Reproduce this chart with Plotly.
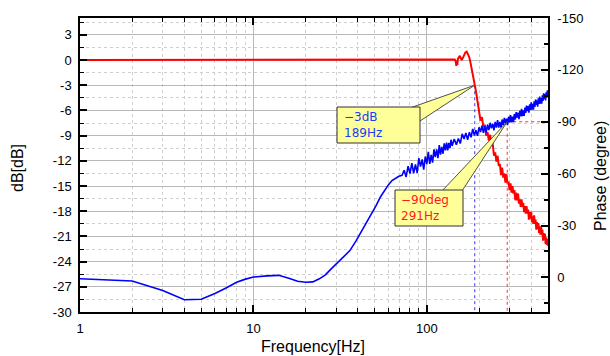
import math
import plotly.graph_objects as go

# ---------------- data ----------------
mag_freq = [1, 10, 100, 140, 145, 147, 148, 149, 150, 151, 153, 155, 157, 159, 161, 164, 167, 170,
            173, 176, 179, 182, 185, 189, 192, 195, 198,
            200, 204, 208, 212, 216, 220, 224, 228, 232, 236, 240, 244, 248, 252, 256, 260, 264, 268,
            272, 276, 280, 284, 288, 292, 296, 300, 304, 308, 312, 316, 320, 324, 328, 332, 336, 340,
            344, 348, 352, 356, 360, 364, 368, 372, 376, 380, 384, 388, 392, 396, 400, 404, 408, 412,
            416, 420, 424, 428, 432, 436, 440, 444, 448, 452, 456, 460, 464, 468, 472, 476, 480, 484,
            488, 492, 496, 500]
mag_db = [0.0, 0.0, 0.0, 0.0, 0.05, -0.2, -0.7, -0.1, -0.6, 0.1, 0.4, 0.5, 0.2, 0.0, 0.2, 0.6, 0.9, 1.0,
          0.7, 0.3, -0.4, -1.1, -1.9, -3.0, -3.7, -4.6, -5.4,
          -6.0, -7.2, -6.8, -8.0, -7.7, -9.0, -8.6, -9.6, -8.9, -10.1, -10.0, -11.4, -11.0, -12.1, -11.4,
          -12.6, -12.4, -13.7, -12.8, -14.0, -13.5, -14.6, -13.6, -14.7, -14.5, -15.5, -14.7, -15.8,
          -15.0, -15.9, -15.5, -16.7, -15.8, -16.7, -15.9, -17.1, -16.6, -17.5, -16.6, -17.5, -17.0,
          -18.1, -17.4, -18.3, -17.4, -18.3, -17.8, -19.0, -18.1, -18.9, -18.1, -19.3, -18.6, -19.5,
          -18.5, -19.5, -19.0, -20.2, -19.3, -20.1, -19.4, -20.6, -19.8, -20.8, -19.8, -20.8, -20.2,
          -21.5, -20.6, -21.4, -20.7, -21.9, -21.1, -22.0, -21.3, -22.1]

phase_freq = [1, 2, 3, 4, 5, 6, 7, 8, 9, 10, 12, 14, 16, 18, 20, 22, 24, 26, 28, 30, 33, 36, 39, 42,
              45, 48, 51, 54, 57, 60, 63, 66, 69, 72,
              74, 76, 78, 80, 82, 84, 86, 88, 90, 92, 94, 96, 98, 100, 102, 104, 106, 108, 110, 112,
              114, 116, 118, 120, 122, 124, 126, 128, 130, 132, 134, 136, 138, 140,
              144, 148, 152, 156, 160, 164, 168, 172, 176, 180, 184, 188, 192, 196, 200, 204, 208, 212,
              216, 220, 224, 228, 232, 236, 240, 244, 248, 252, 256, 260, 264, 268, 272, 276, 280, 284,
              288, 292, 296, 300, 304, 308, 312, 316, 320, 324, 328, 332, 336, 340, 344, 348, 352, 356,
              360, 364, 368, 372, 376, 380, 384, 388, 392, 396, 400, 404, 408, 412, 416, 420, 424, 428,
              432, 436, 440, 444, 448, 452, 456, 460, 464, 468, 472, 476, 480, 484, 488, 492, 496, 500]
phase_deg = [0.8, 2.1, 7.6, 12.9, 12.6, 9.3, 6.0, 2.8, 1.0, -0.2, -0.9, -1.2, 0.5, 2.2, 2.8, 2.6, 0.8,
             -1.5, -4.8, -7.8, -11.5, -15.5, -21.0, -26.5, -31.5, -36.5, -41.5, -46.5, -50.5, -53.5,
             -56.0, -57.5, -58.5, -59.0,
             -62.0, -58.1, -64.3, -60.0, -66.1, -60.2, -65.3, -60.4, -69.0, -64.1, -68.2, -62.3, -69.9,
             -65.5, -72.6, -65.7, -70.8, -66.4, -74.0, -69.5, -74.0, -69.0, -76.5, -71.0, -75.5, -71.5,
             -77.5, -73.5, -78.0, -73.4, -77.8, -74.7, -79.6, -76.0,
             -80.1, -76.7, -80.3, -77.4, -83.0, -80.0, -83.5, -79.5, -84.0, -81.0, -85.9, -82.2, -85.1,
             -81.9, -86.8, -84.1, -87.8, -83.6, -87.4, -83.7, -88.4, -85.2, -89.4, -86.2, -88.9, -85.1,
             -89.9, -86.6, -90.9, -86.6, -89.9, -86.6, -91.3, -88.1, -92.3, -89.1, -91.8, -88.1, -92.9,
             -89.6, -93.9, -89.7, -93.0, -89.8, -94.5, -91.3, -95.6, -92.4, -95.2, -91.5, -96.3, -93.1,
             -97.5, -93.3, -96.6, -93.4, -98.2, -95.1, -99.4, -96.2, -99.0, -95.3, -100.1, -96.9, -101.2,
             -97.0, -100.3, -97.0, -101.8, -98.6, -102.9, -99.7, -102.4, -98.7, -103.5, -100.3, -104.6,
             -100.4, -103.7, -100.5, -105.3, -102.1, -106.4, -103.2, -106.0, -102.3, -107.1, -103.9,
             -108.2, -105.0]

cutoff_freq = 189
cutoff_db = -3
phase90_freq = 291
phase90_deg = -90

x_tickvals = [1, 10, 100]
x_ticktext = ["1", "10", "100"]
x_minorvals = [2, 3, 4, 5, 6, 7, 8, 9, 20, 30, 40, 50, 60, 70, 80, 90, 200, 300, 400]
db_tickvals = [-30, -27, -24, -21, -18, -15, -12, -9, -6, -3, 0, 3]
db_ticktext = ["-30", "-27", "-24", "-21", "-18", "-15", "-12", "-9", "-6", "-3", "0", "3"]
db_minorvals = [-28.5, -25.5, -22.5, -19.5, -16.5, -13.5, -10.5, -7.5, -4.5, -1.5, 1.5, 4.5]
ph_tickvals = [-150, -120, -90, -60, -30, 0]
ph_ticktext = ["-150", "-120", "-90", "-60", "-30", "0"]
ph_minorvals = [-135, -105, -75, -45, -15, 15]

label_cutoff = "\u22123dB<br>189Hz"
label_phase = "\u221290deg<br>291Hz"

# ---------------- layout geometry ----------------
W, H = 610, 356
L, R, T, B = 80, 548, 18, 312
X_MAX = 500
DB_RANGE = [-30, 5]
PH_RANGE = [20, -150]

def pxx(px):
    return (px - L) / (R - L)

def pxy(py):
    return (B - py) / (B - T)

def f_to_paper(f):
    return math.log10(f) / math.log10(X_MAX)

def db_to_paper(d):
    return (d - DB_RANGE[0]) / (DB_RANGE[1] - DB_RANGE[0])

def ph_to_paper(p):
    return (p - PH_RANGE[0]) / (PH_RANGE[1] - PH_RANGE[0])

FONT = "Liberation Sans, Arial, sans-serif"
BOXFONT = "DejaVu Sans, sans-serif"
YELLOW = "#ffff99"

fig = go.Figure()

# reference lines
fig.add_trace(go.Scatter(x=[cutoff_freq, cutoff_freq], y=[cutoff_db, DB_RANGE[0]], mode="lines",
                         line=dict(color="#3a3aff", width=1, dash="dot"), yaxis="y", hoverinfo="skip"))
fig.add_trace(go.Scatter(x=[phase90_freq, phase90_freq], y=[phase90_deg, PH_RANGE[0]], mode="lines",
                         line=dict(color="#ff3030", width=1, dash="dot"), yaxis="y2", hoverinfo="skip"))
fig.add_trace(go.Scatter(x=[phase90_freq, X_MAX], y=[phase90_deg, phase90_deg], mode="lines",
                         line=dict(color="#ff3030", width=1, dash="dot"), yaxis="y2", hoverinfo="skip"))

# phase
fig.add_trace(go.Scatter(x=phase_freq, y=phase_deg, mode="lines", yaxis="y2",
                         line=dict(color="#0000ff", width=1.6)))
# magnitude
fig.add_trace(go.Scatter(x=mag_freq, y=mag_db, mode="lines", yaxis="y",
                         line=dict(color="#ff0000", width=2)))

# callouts (paper coords)
tip1 = (f_to_paper(cutoff_freq), db_to_paper(cutoff_db))
tip2 = (f_to_paper(phase90_freq), ph_to_paper(phase90_deg))

box1 = (337, 107, 420, 143)
box2 = (395, 190, 463, 226)
base1 = [(410, 108), (420, 121)]
base2 = [(442, 191), (462, 191)]

def wedge(tip, base):
    p = "M %f,%f L %f,%f L %f,%f Z" % (tip[0], tip[1], pxx(base[0][0]), pxy(base[0][1]),
                                       pxx(base[1][0]), pxy(base[1][1]))
    return dict(type="path", path=p, xref="paper", yref="paper", fillcolor=YELLOW,
                line=dict(color="#505050", width=1), layer="above")

def rect(b):
    return dict(type="rect", xref="paper", yref="paper", x0=pxx(b[0]), x1=pxx(b[2]),
                y0=pxy(b[3]), y1=pxy(b[1]), fillcolor=YELLOW,
                line=dict(color="#303030", width=1), layer="above")

shapes = [wedge(tip1, base1), rect(box1), wedge(tip2, base2), rect(box2)]

annotations = [
    dict(text=label_cutoff, xref="paper", yref="paper", x=pxx(box1[0] + 5), y=pxy((box1[1] + box1[3]) / 2),
         xanchor="left", yanchor="middle", align="left", showarrow=False,
         font=dict(family=BOXFONT, size=12, color="#1a3cff")),
    dict(text=label_phase, xref="paper", yref="paper", x=pxx(box2[0] + 4), y=pxy((box2[1] + box2[3]) / 2),
         xanchor="left", yanchor="middle", align="left", showarrow=False,
         font=dict(family=BOXFONT, size=12, color="#ff1a1a")),
    dict(text="dB[dB]", xref="paper", yref="paper", x=pxx(17), y=pxy(168), textangle=-90,
         xanchor="center", yanchor="middle", showarrow=False, font=dict(family=FONT, size=16, color="black")),
    dict(text="Phase (degree)", xref="paper", yref="paper", x=pxx(601), y=pxy(176), textangle=-90,
         xanchor="center", yanchor="middle", showarrow=False, font=dict(family=FONT, size=16, color="black")),
    dict(text="Frequency[Hz]", xref="paper", yref="paper", x=pxx(313), y=pxy(346),
         xanchor="center", yanchor="middle", showarrow=False, font=dict(family=FONT, size=16, color="black")),
]

fig.update_layout(
    template="none",
    width=W, height=H, autosize=False,
    margin=dict(l=L, r=W - R, t=T, b=H - B, pad=0),
    paper_bgcolor="white", plot_bgcolor="white",
    showlegend=False,
    font=dict(family=FONT, size=13, color="black"),
    shapes=shapes,
    annotations=annotations,
    xaxis=dict(type="log", range=[0, math.log10(X_MAX)], tickmode="array", tickvals=x_tickvals,
               ticktext=x_ticktext, ticks="inside", ticklen=7, tickwidth=1.5, tickcolor="black",
               showline=True, linecolor="black", linewidth=1.5, mirror="ticks",
               showgrid=True, gridcolor="#b8b8b8", gridwidth=1, zeroline=False,
               ticklabelstandoff=4,
               minor=dict(tickmode="array", tickvals=x_minorvals, ticks="inside", ticklen=4,
                          tickwidth=1, tickcolor="black", showgrid=True, gridcolor="#cfcfcf",
                          griddash="dot", gridwidth=1)),
    yaxis=dict(range=DB_RANGE, tickmode="array", tickvals=db_tickvals, ticktext=db_ticktext,
               ticks="inside", ticklen=7, tickwidth=1.5, tickcolor="black",
               showline=True, linecolor="black", linewidth=1.5, mirror=False,
               showgrid=True, gridcolor="#b8b8b8", gridwidth=1, zeroline=False,
               ticklabelstandoff=4,
               minor=dict(tickmode="array", tickvals=db_minorvals, ticks="inside", ticklen=4,
                          tickwidth=1, tickcolor="black", showgrid=True, gridcolor="#cfcfcf",
                          griddash="dot", gridwidth=1)),
    yaxis2=dict(range=PH_RANGE, overlaying="y", side="right", anchor="x", tickmode="array",
                tickvals=ph_tickvals, ticktext=ph_ticktext, ticks="inside", ticklen=7, tickwidth=1.5,
                tickcolor="black", showline=True, linecolor="black", linewidth=1.5,
                showgrid=False, zeroline=False, ticklabelstandoff=5,
                minor=dict(tickmode="array", tickvals=ph_minorvals, ticks="inside", ticklen=4,
                           tickwidth=1.5, tickcolor="black", showgrid=False)),
)

fig.write_html("out.html")
